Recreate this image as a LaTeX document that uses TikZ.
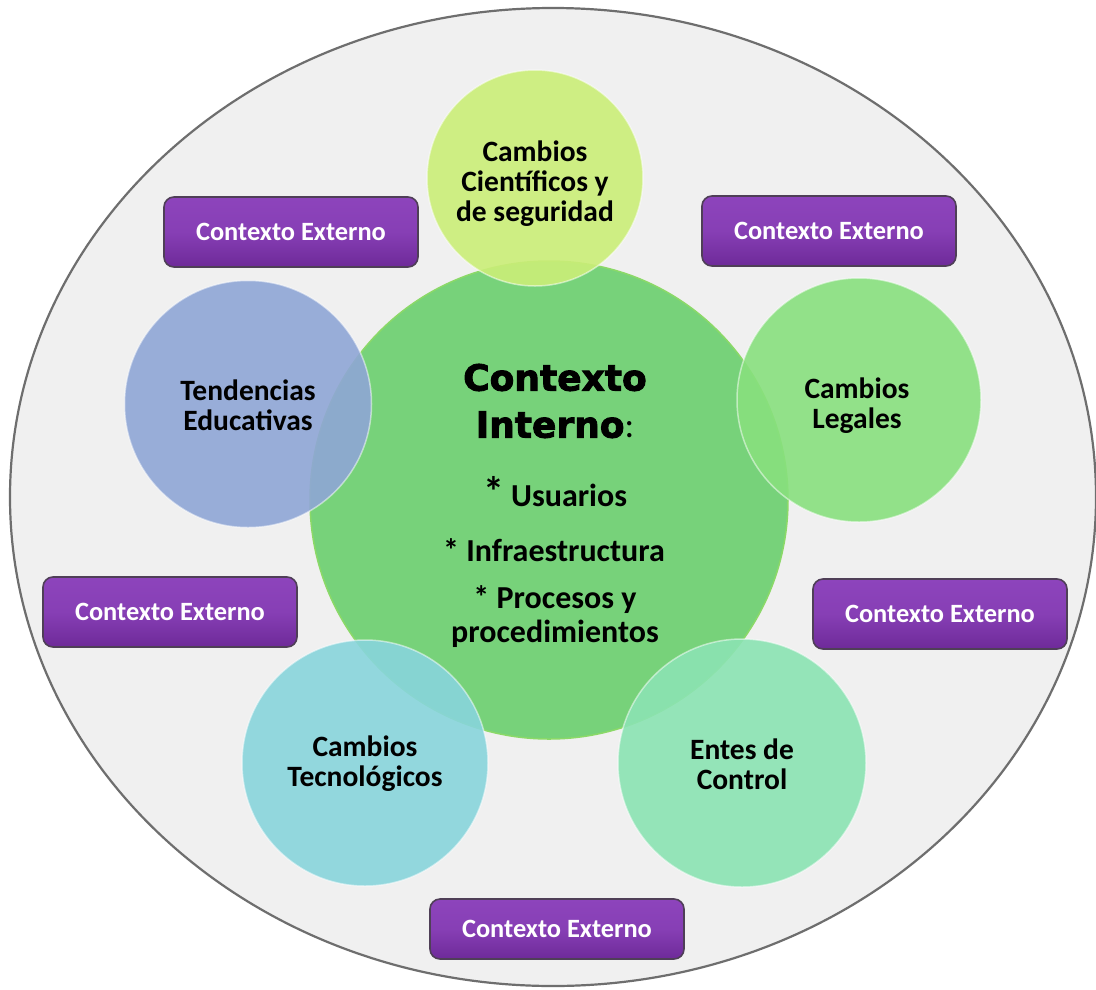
\documentclass[tikz,border=0pt]{standalone}
\usepackage{fontspec}
\setmainfont{Carlito}
\newfontfamily\titlefont{DejaVu Sans}[BoldFeatures={FakeBold=2.5}]
\usetikzlibrary{shapes.geometric}
\definecolor{bgfill}{HTML}{F0F0F0}
\definecolor{bgline}{HTML}{6E6E6E}
\definecolor{cgreen}{HTML}{77D27A}
\definecolor{ctop}{HTML}{CBEE78}
\definecolor{cleft}{HTML}{8FA6D6}
\definecolor{cright}{HTML}{88E07E}
\definecolor{cbl}{HTML}{88D5DC}
\definecolor{cbr}{HTML}{8BE3B3}
\definecolor{ptop}{HTML}{8D44BC}
\definecolor{pbot}{HTML}{6E2A99}
\definecolor{pline}{HTML}{4F3F57}
\tikzset{
  outerell/.style={fill=bgfill, draw=bgline, line width=2.2pt},
  bubble/.style={circle, inner sep=0pt, fill opacity=0.9, draw=white, draw opacity=0.5, line width=1.5pt,
     text opacity=1, align=center, font=\bfseries\fontsize{29.5}{30}\selectfont, text=black},
  core/.style={circle, inner sep=0pt, fill=cgreen, draw=cgreen!85!yellow, line width=1.5pt},
  extbox/.style={rounded corners=10pt, top color=ptop, bottom color=pbot, middle color=ptop!80!pbot,
     draw=pline, line width=1.6pt, minimum width=254pt, minimum height=70pt, inner sep=0pt,
     text=white, font=\bfseries\fontsize{26.4}{28}\selectfont},
  listitem/.style={align=center, font=\bfseries\fontsize{32}{34}\selectfont, text=black},
  titletext/.style={align=center, font=\titlefont\bfseries\fontsize{36}{47}\selectfont, text=black}
}
\begin{document}
\begin{tikzpicture}[x=1pt,y=-1pt]
\useasboundingbox (0,0) rectangle (1096,989);
\fill[white] (0,0) rectangle (1096,989);
\draw[outerell] (553,497) ellipse [x radius=543, y radius=489];

% central circle
\node[core, minimum size=478pt] (centro) at (549,500) {};

% satellite circles
\node[bubble, fill=ctop, minimum size=216pt] (cientificos) at (535,178) {};
\node[bubble, fill=cleft, minimum size=247pt] (tendencias) at (248,404) {};
\node[bubble, fill=cright, minimum size=244pt] (legales) at (859,400) {};
\node[bubble, fill=cbl, minimum size=246pt] (tecnologicos) at (365,763) {};
\node[bubble, fill=cbr, minimum size=248pt] (entes) at (742,763) {};

% satellite texts
\node[bubble, draw=none, fill=none] (tcient) at (535,184) {Cambios\\Científicos y\\de seguridad};
\node[bubble, draw=none, fill=none] (ttend) at (248,405) {Tendencias\\Educativas};
\node[bubble, draw=none, fill=none] (tleg) at (857,406) {Cambios\\Legales};
\node[bubble, draw=none, fill=none] (ttec) at (365,764) {Cambios\\Tecnológicos};
\node[bubble, draw=none, fill=none] (tent) at (742,764) {Entes de\\Control};

% central texts
\node[titletext] (titulo) at (555,401) {Contexto\\Interno{\mdseries\fontspec{Carlito}:}};
\node[listitem] (usuarios) at (555,492) {{\fontsize{42}{42}\selectfont *} Usuarios};
\node[listitem] (infra) at (554,550) {* Infraestructura};
\node[listitem] (procesos) at (555,617) {* Procesos y\\procedimientos};

% external context boxes
\node[extbox] (ext1) at (291,232) {Contexto Externo};
\node[extbox] (ext2) at (829,231) {Contexto Externo};
\node[extbox] (ext3) at (170,612) {Contexto Externo};
\node[extbox] (ext4) at (940,614) {Contexto Externo};
\node[extbox, minimum height=60pt] (ext5) at (557,929) {Contexto Externo};
\end{tikzpicture}
\end{document}
